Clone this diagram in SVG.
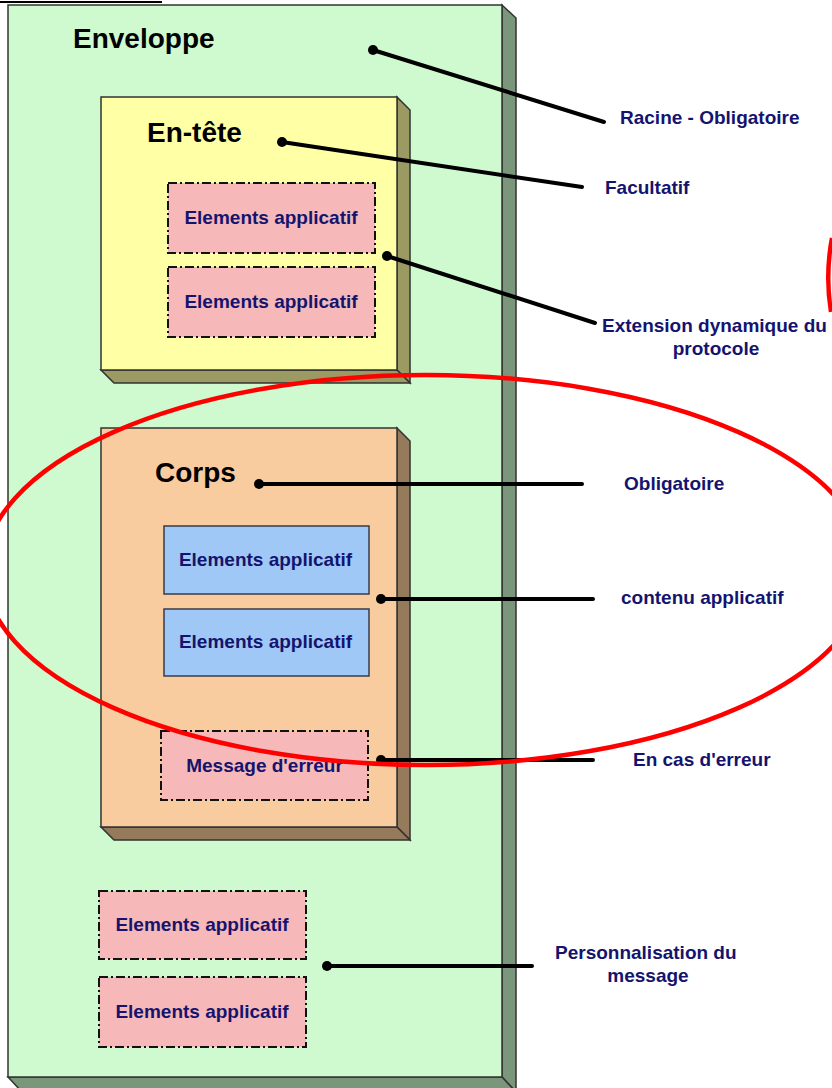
<svg xmlns="http://www.w3.org/2000/svg" width="832" height="1088" viewBox="0 0 832 1088">
<defs>
<style>
.front{stroke:#333;stroke-width:1.5}
.side{stroke:#333;stroke-width:1.5}
.pink{fill:#F6B8B8;stroke:#111;stroke-width:2;stroke-dasharray:9 3 2 3}
.blue{fill:#9FC8F6;stroke:#3a3a4a;stroke-width:1.5}
.title{font-family:"Liberation Sans",Arial,sans-serif;font-weight:bold;font-size:28px;fill:#000}
.lbl{font-family:"Liberation Sans",Arial,sans-serif;font-weight:bold;font-size:19px;fill:#14146E}
.conn{stroke:#000;stroke-width:4;fill:none;stroke-linecap:round}
.dot{fill:#000}
</style>
</defs>
<rect width="832" height="1088" fill="#fff"/>
<line x1="0" y1="2" x2="162" y2="2" stroke="#000" stroke-width="2"/>

<g id="enveloppe">
<polygon class="side" points="502,5 516,18 516,1092 502,1077" fill="#7B977B"/>
<polygon class="side" points="8,1077 502,1077 516,1092 22,1092" fill="#7B977B"/>
<rect class="front" x="8" y="5" width="494" height="1072" fill="#CFFACF"/>
<text class="title" x="73" y="48">Enveloppe</text>
</g>

<g id="entete">
<polygon class="side" points="397,97 410,110 410,383 397,370" fill="#9A9A62"/>
<polygon class="side" points="101,370 397,370 410,383 114,383" fill="#9A9A62"/>
<rect class="front" x="101" y="97" width="296" height="273" fill="#FFFFA6"/>
<text class="title" x="147" y="142">En-tête</text>
</g>
<g id="entete-el1">
<rect class="pink" x="168" y="183" width="207" height="70"/>
<text class="lbl" x="271" y="224" text-anchor="middle">Elements applicatif</text>
</g>
<g id="entete-el2">
<rect class="pink" x="168" y="267" width="207" height="70"/>
<text class="lbl" x="271" y="308" text-anchor="middle">Elements applicatif</text>
</g>

<g id="corps">
<polygon class="side" points="397,428 410,441 410,840 397,827" fill="#957A5C"/>
<polygon class="side" points="101,827 397,827 410,840 114,840" fill="#957A5C"/>
<rect class="front" x="101" y="428" width="296" height="399" fill="#F8CC9F"/>
<text class="title" x="155" y="482">Corps</text>
</g>
<g id="corps-el1">
<rect class="blue" x="164" y="526" width="205" height="68"/>
<text class="lbl" x="265.5" y="566" text-anchor="middle">Elements applicatif</text>
</g>
<g id="corps-el2">
<rect class="blue" x="164" y="609" width="205" height="67"/>
<text class="lbl" x="265.5" y="648" text-anchor="middle">Elements applicatif</text>
</g>
<g id="erreur">
<rect class="pink" x="161" y="731" width="207" height="69"/>
<text class="lbl" x="264.5" y="772" text-anchor="middle">Message d'erreur</text>
</g>

<g id="perso-el1">
<rect class="pink" x="99" y="891" width="207" height="68"/>
<text class="lbl" x="202" y="931" text-anchor="middle">Elements applicatif</text>
</g>
<g id="perso-el2">
<rect class="pink" x="99" y="977" width="207" height="70"/>
<text class="lbl" x="202" y="1018" text-anchor="middle">Elements applicatif</text>
</g>

<g id="connectors">
<line class="conn" x1="373" y1="50" x2="604" y2="122"/>
<circle class="dot" cx="373" cy="50" r="5"/>
<line class="conn" x1="282" y1="142" x2="582" y2="187"/>
<circle class="dot" cx="282" cy="142" r="5"/>
<line class="conn" x1="387" y1="256" x2="595" y2="323"/>
<circle class="dot" cx="387" cy="256" r="5"/>
<line class="conn" x1="259" y1="484" x2="582" y2="484"/>
<circle class="dot" cx="259" cy="484" r="5"/>
<line class="conn" x1="381" y1="599" x2="593" y2="599"/>
<circle class="dot" cx="381" cy="599" r="5"/>
<line class="conn" x1="381" y1="760" x2="593" y2="760"/>
<circle class="dot" cx="381" cy="760" r="5"/>
<line class="conn" x1="327" y1="966" x2="532" y2="966"/>
<circle class="dot" cx="327" cy="966" r="5"/>
</g>

<g id="labels">
<text class="lbl" x="620" y="124">Racine - Obligatoire</text>
<text class="lbl" x="605" y="194">Facultatif</text>
<text class="lbl" x="602" y="332">Extension dynamique du</text>
<text class="lbl" x="716" y="355" text-anchor="middle">protocole</text>
<text class="lbl" x="624" y="490">Obligatoire</text>
<text class="lbl" x="621" y="604">contenu applicatif</text>
<text class="lbl" x="633" y="766">En cas d'erreur</text>
<text class="lbl" x="555" y="959">Personnalisation du</text>
<text class="lbl" x="648" y="982" text-anchor="middle">message</text>
</g>

<g id="highlight" fill="none" stroke="#F00" stroke-width="4.5">
<ellipse cx="426" cy="570" rx="442" ry="195"/>
<path d="M832 238 Q825 275 831 312"/>
</g>
</svg>
